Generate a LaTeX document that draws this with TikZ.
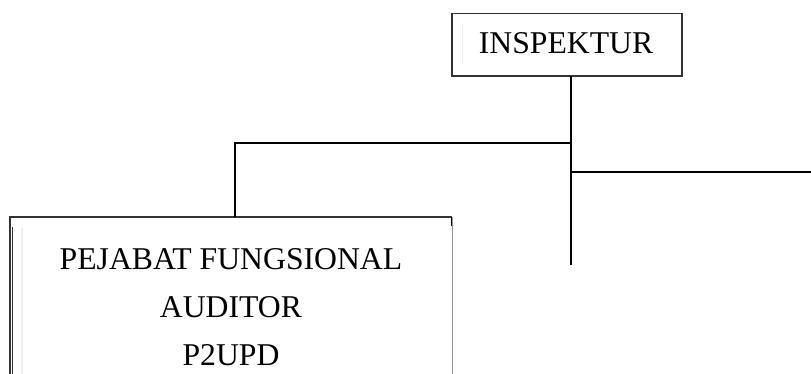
\documentclass[tikz,border=0pt]{standalone}
\usepackage{fontspec}
\setmainfont{Liberation Serif}
\begin{document}
\begin{tikzpicture}[x=1pt,y=-1pt,
  boxline/.style={draw=black!80,line width=1.2pt},
  conn/.style={draw=black,line width=1.6pt},
  lbl/.style={inner sep=0pt,font=\fontsize{31.7}{48}\selectfont,align=center}]
\useasboundingbox (0,0) rectangle (811,374);
% INSPEKTUR box
\draw[boxline] (452,13.5) rectangle (682,76);
\draw[black!8,line width=1.5pt] (462.5,24) -- (462.5,64);
\node[lbl,anchor=base] (insp) at (566,53.3) {INSPEKTUR};
\coordinate (inspbot) at (570.7,76);
% left box (open at bottom)
\draw[boxline] (10,374) -- (10,217) -- (452,217);
\draw[black!40,line width=0.8pt] (452,217) -- (452,374);
\draw[black,line width=1.2pt] (451.5,217) -- (451.5,226);
\draw[black!80,line width=1pt] (12.5,227) -- (12.5,374);
\draw[black!7,line width=1.5pt] (22,228) -- (22,374);
\node[lbl,anchor=base] (pej) at (231,365) {PEJABAT FUNGSIONAL\\AUDITOR\\P2UPD};
\coordinate (pejtop) at (235,217);
% connectors
\coordinate (trunkend) at (570.7,265);
\coordinate (lj) at (570.7,143);
\coordinate (rj) at (570.7,172);
\coordinate (rend) at (811,172);
\draw[conn] (inspbot) -- (trunkend);
\draw[conn] (lj) -| (pejtop);
\draw[conn] (rj) -- (rend);
\end{tikzpicture}
\end{document}
